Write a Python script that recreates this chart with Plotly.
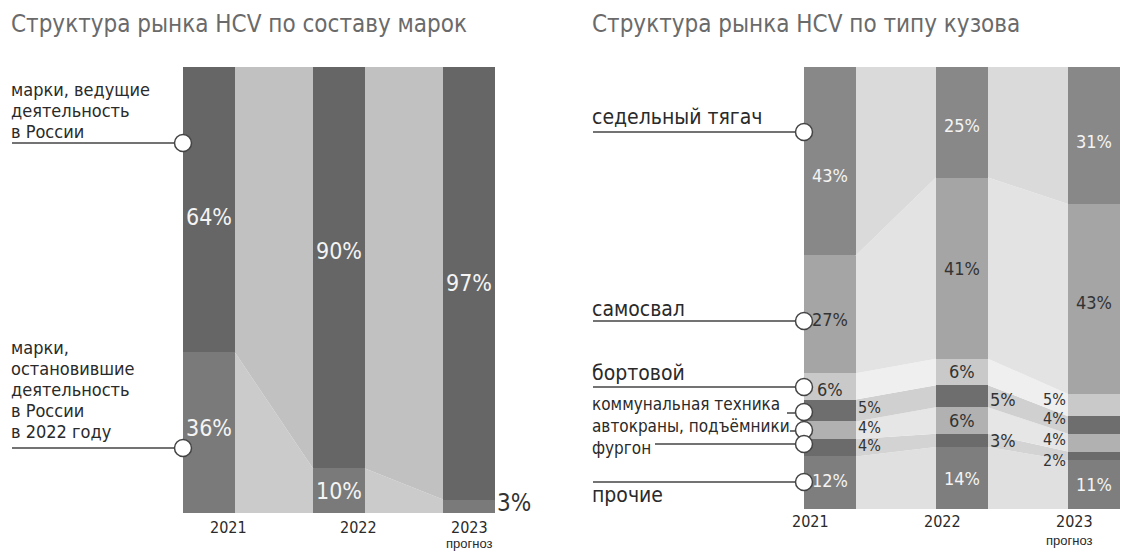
import numpy as np
import plotly.graph_objects as go

W, H = 1125, 551
FONT = "DejaVu Sans Condensed, Liberation Sans Narrow, Arial Narrow, sans-serif"

# ---------------- data ----------------
years = ["2021", "2022", "2023"]
forecast_note = "прогноз"

title_left = "Структура рынка HCV по составу марок"
title_right = "Структура рынка HCV по типу кузова"

# left chart (bottom -> top)
brand_names = ["марки, остановившие деятельность в России в 2022 году",
               "марки, ведущие деятельность в России"]
brand_stopped = [36, 10, 3]
brand_active = [64, 90, 97]

# right chart (bottom -> top)
body_names = ["прочие", "фургон", "автокраны, подъёмники", "коммунальная техника",
              "бортовой", "самосвал", "седельный тягач"]
body_other = [12, 14, 11]
body_van = [4, 3, 2]
body_crane = [4, 6, 4]
body_municipal = [5, 5, 4]
body_flatbed = [6, 6, 5]
body_dump = [27, 41, 43]
body_tractor = [43, 25, 31]

# ---------------- styles ----------------
WH, DK = "#f4f4f4", "#333333"
brand_bar_colors = ["#7a7a7a", "#666666"]
brand_rib_colors = ["#cbcbcb", "#c1c1c1"]
brand_place = [["c", "c", "r"], ["c", "c", "c"]]
brand_txtcol = [[WH, WH, DK], [WH] * 3]
brand_yshift = [[5, 0, 3], [-7, 17, 0]]
brand_size = [[23, 23, 24], [23, 23, 23]]

body_bar_colors = ["#7e7e7e", "#6b6b6b", "#b1b1b1", "#6e6e6e", "#c9c9c9", "#a5a5a5", "#888888"]
body_rib_colors = ["#e0e0e0", "#d3d3d3", "#e6e6e6", "#d0d0d0", "#efefef", "#e3e3e3", "#dadada"]
body_place = [["c", "c", "c"], ["r", "r", "l"], ["r", "c", "l"], ["r", "r", "l"],
              ["c", "c", "l"], ["c", "c", "c"], ["c", "c", "c"]]
body_txtcol = [[WH, WH, WH], [DK] * 3, [DK] * 3, [DK] * 3, [DK] * 3, [DK] * 3, [WH, WH, WH]]
body_yshift = [[2, 0, 0], [2, 0, -5], [3, 0, 3], [3, -3, 7], [-3, 0, 6], [-5, 0, -3], [-14, -3, -6]]
body_size = [[18, 18, 18], [16, 18, 16], [16, 18, 16], [16, 18, 16], [18, 18, 16], [18, 18, 18], [18, 18, 18]]

L_X0, L_STEP, L_TOP, L_BOT = 209, 130, 67, 513
R_X0, R_STEP, R_TOP, R_BOT = 830, 132, 67, 509
BAR_PX = 52


def px(x):
    return x / W


def py(y):
    return 1 - y / H


def stack_norm(series):
    arr = np.array(series, dtype=float)
    frac = arr / arr.sum(axis=0) * 100
    cum = np.vstack([np.zeros(arr.shape[1]), np.cumsum(frac, axis=0)])
    return cum[:-1], cum[1:]


fig = go.Figure()
xs = list(range(len(years)))


def add_chart(series, bar_colors, rib_colors, xa, ya, step, place, txtcol, yshifts, sizes):
    hw = BAR_PX / step / 2
    lo, hi = stack_norm(series)
    for k, vals in enumerate(series):
        for i in range(len(xs) - 1):
            fig.add_trace(go.Scatter(
                x=[i + hw, i + 1 - hw, i + 1 - hw, i + hw, i + hw],
                y=[lo[k, i], lo[k, i + 1], hi[k, i + 1], hi[k, i], lo[k, i]],
                fill="toself", fillcolor=rib_colors[k], mode="lines",
                line=dict(width=0, color=rib_colors[k]), hoverinfo="skip",
                showlegend=False, xaxis=xa, yaxis=ya))
        fig.add_trace(go.Bar(x=xs, y=vals, width=2 * hw, marker=dict(color=bar_colors[k], line=dict(width=0)),
                             showlegend=False, hoverinfo="skip", xaxis=xa, yaxis=ya))
        for i, v in enumerate(vals):
            p = place[k][i]
            if p == "c":
                x, xan, xsh = i, "center", 0
            elif p == "r":
                x, xan, xsh = i + hw, "left", 1
            else:
                x, xan, xsh = i - hw, "right", -1
            fig.add_annotation(x=x, y=(lo[k, i] + hi[k, i]) / 2, xref=xa, yref=ya,
                               text=f"{v}%", showarrow=False, xanchor=xan, yanchor="middle",
                               xshift=xsh, yshift=yshifts[k][i], borderpad=0,
                               font=dict(family=FONT, size=sizes[k][i], color=txtcol[k][i]))


add_chart([brand_stopped, brand_active], brand_bar_colors, brand_rib_colors, "x", "y", L_STEP,
          brand_place, brand_txtcol, brand_yshift, brand_size)
add_chart([body_other, body_van, body_crane, body_municipal, body_flatbed, body_dump, body_tractor],
          body_bar_colors, body_rib_colors, "x2", "y2", R_STEP,
          body_place, body_txtcol, body_yshift, body_size)


def text_line(x, baseline, text, size, color="#2a2a2a", family=FONT):
    fig.add_annotation(x=px(x), y=py(baseline + 0.236 * size), xref="paper", yref="paper",
                       text=text, showarrow=False, xanchor="left", yanchor="bottom", borderpad=0,
                       font=dict(family=family, size=size, color=color))


def callout(cx, cy, x_from, y_line=None, r=8.5):
    yl = cy if y_line is None else y_line
    fig.add_shape(type="line", x0=px(x_from), x1=px(cx - r), y0=py(yl), y1=py(yl),
                  xref="paper", yref="paper", line=dict(color="#444444", width=1.5))
    fig.add_shape(type="circle", x0=px(cx - r), x1=px(cx + r), y0=py(cy - r), y1=py(cy + r),
                  xref="paper", yref="paper", fillcolor="white", line=dict(color="#444444", width=1.5))


# titles
text_line(10, 33, title_left, 24, "#6a6a6a")
text_line(591, 33, title_right, 24, "#6a6a6a")

# left labels
for t, b in zip(["марки, ведущие", "деятельность", "в России"], [97, 118, 139]):
    text_line(10, b, t, 18)
for t, b in zip(["марки,", "остановившие", "деятельность", "в России", "в 2022 году"],
                [355, 376, 397, 418, 439]):
    text_line(10, b, t, 18)
callout(183, 143, 12)
callout(183, 448, 12)

# right labels
right_lbl = [("седельный тягач", 125, 21), ("самосвал", 317, 21), ("бортовой", 381, 21),
             ("коммунальная техника", 411, 17), ("автокраны, подъёмники", 433, 17),
             ("фургон", 455, 17), ("прочие", 503, 21)]
for t, b, s in right_lbl:
    text_line(591, b, t, s)
callout(804, 132, 593)
callout(804, 321, 593)
callout(804, 387, 593)
callout(804, 412, 787, 413)
callout(804, 430, 790, 431)
callout(804, 444, 655)
callout(804, 482, 593)

# year labels
for i, yr in enumerate(years):
    fig.add_annotation(x=px(L_X0 + i * L_STEP), y=py(527), xref="paper", yref="paper", text=yr,
                       showarrow=False, yanchor="middle", borderpad=0,
                       font=dict(family=FONT, size=16, color="#2a2a2a"))
    fig.add_annotation(x=px(R_X0 + i * R_STEP), y=py(521), xref="paper", yref="paper", text=yr,
                       showarrow=False, yanchor="middle", borderpad=0,
                       font=dict(family=FONT, size=16, color="#2a2a2a"))
fig.add_annotation(x=px(L_X0 + 2 * L_STEP), y=py(543), xref="paper", yref="paper", text=forecast_note,
                   showarrow=False, yanchor="middle", borderpad=0,
                   font=dict(family="Liberation Sans, Arial, sans-serif", size=13, color="#2a2a2a"))
fig.add_annotation(x=px(R_X0 + 2 * R_STEP), y=py(540), xref="paper", yref="paper", text=forecast_note,
                   showarrow=False, yanchor="middle", borderpad=0,
                   font=dict(family="Liberation Sans, Arial, sans-serif", size=13, color="#2a2a2a"))

ax_common = dict(showgrid=False, zeroline=False, showticklabels=False, ticks="", showline=False, fixedrange=True)
fig.update_layout(
    width=W, height=H, margin=dict(l=0, r=0, t=0, b=0),
    paper_bgcolor="white", plot_bgcolor="white",
    barmode="stack", barnorm="percent", showlegend=False,
    xaxis=dict(domain=[0, 0.5], range=[(0 - L_X0) / L_STEP, (W / 2 - L_X0) / L_STEP], **ax_common),
    yaxis=dict(domain=[py(L_BOT), py(L_TOP)], range=[0, 100], **ax_common),
    xaxis2=dict(domain=[0.5, 1], range=[(W / 2 - R_X0) / R_STEP, (W - R_X0) / R_STEP], anchor="y2", **ax_common),
    yaxis2=dict(domain=[py(R_BOT), py(R_TOP)], range=[0, 100], anchor="x2", **ax_common),
)

fig.write_html("out.html", config={"displayModeBar": False},
               post_script="document.body.style.margin='0';document.body.style.overflow='hidden';")
